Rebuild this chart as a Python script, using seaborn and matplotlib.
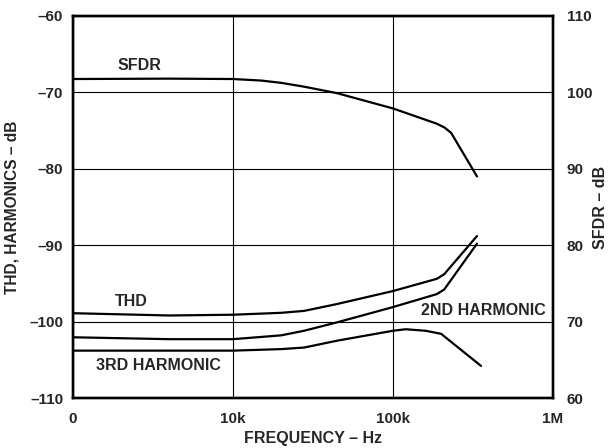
import pandas as pd
import matplotlib.pyplot as plt
import seaborn as sns
from matplotlib.ticker import FixedLocator, FixedFormatter

# frequency points (Hz) and values
freq = [1000, 4000, 10000, 15000, 20000, 27800, 44700, 100000, 188000, 210000, 231000, 335000]
sfdr = [101.75, 101.8, 101.75, 101.55, 101.25, 100.75, 99.9, 97.9, 95.9, 95.4, 94.7, 89.0]

freq_thd = [1000, 4000, 10000, 20000, 27800, 44700, 100000, 188000, 209000, 335000]
thd = [-98.9, -99.2, -99.1, -98.85, -98.6, -97.7, -96.0, -94.4, -93.8, -88.8]
second = [-102.05, -102.3, -102.3, -101.8, -101.2, -100.1, -98.1, -96.4, -95.8, -89.8]

freq_3rd = [1000, 10000, 20000, 27800, 44700, 100000, 120000, 160000, 200000, 355000]
third = [-103.8, -103.8, -103.6, -103.4, -102.5, -101.2, -101.0, -101.2, -101.6, -105.8]

xticks = [1000, 10000, 100000, 1000000]
xtick_labels = ['0', '10k', '100k', '1M']
left_ticks = [-110, -100, -90, -80, -70, -60]
right_ticks = [60, 70, 80, 90, 100, 110]

sns.set_theme(style='white')
plt.rcParams['font.family'] = ['Liberation Sans', 'DejaVu Sans']
plt.rcParams['font.weight'] = 'bold'

fig = plt.figure(figsize=(6.08, 4.48), dpi=100)
ax = fig.add_axes([0.12, 0.1116, 0.7895, 0.8527])
ax2 = ax.twinx()

harm = pd.DataFrame({'freq': freq_thd, 'THD': thd, '2ND': second})
sns.lineplot(data=harm, x='freq', y='THD', ax=ax, color='black', lw=1.6)
sns.lineplot(data=harm, x='freq', y='2ND', ax=ax, color='black', lw=1.6)
sns.lineplot(x=freq_3rd, y=third, ax=ax, color='black', lw=1.6)
sns.lineplot(x=freq, y=sfdr, ax=ax2, color='black', lw=1.6)

ax.set_xscale('log')
ax.set_xlim(1000, 1000000)
ax.set_ylim(-110, -60)
ax2.set_ylim(60, 110)

ax.xaxis.set_major_locator(FixedLocator(xticks))
ax.xaxis.set_major_formatter(FixedFormatter(xtick_labels))
ax.xaxis.set_minor_locator(FixedLocator([]))
ax.set_yticks(left_ticks)
ax.set_yticklabels([str(v).replace('-', '\u2013') for v in left_ticks])
ax2.set_yticks(right_ticks)
ax2.set_yticklabels([str(v) for v in right_ticks])

ax.grid(True, color='black', lw=0.8)
ax.tick_params(axis='y', length=0, labelsize=11, pad=7)
ax.tick_params(axis='x', length=0, labelsize=11, pad=10)
ax2.tick_params(length=0, labelsize=11, pad=10)
for a in (ax, ax2):
    for lab in a.get_xticklabels() + a.get_yticklabels():
        lab.set_fontweight('bold')
    for s in a.spines.values():
        s.set_color('black')
        s.set_linewidth(1.7)

ax.set_xlabel('FREQUENCY \u2013 Hz', fontsize=11.5, fontweight='bold', labelpad=4)
ax.set_ylabel('THD, HARMONICS \u2013 dB', fontsize=11.2, fontweight='bold', labelpad=7)
ax2.set_ylabel('SFDR \u2013 dB', fontsize=11.5, fontweight='bold')
ax2.yaxis.set_label_coords(1.084, 0.5)

ax.text(2620, -66.5, 'SFDR', fontsize=11.5, fontweight='bold', ha='center', va='center')
ax.text(2300, -97.4, 'THD', fontsize=11.5, fontweight='bold', ha='center', va='center')
ax.text(3400, -105.8, '3RD HARMONIC', fontsize=11.5, fontweight='bold', ha='center', va='center')
ax.text(365000, -98.6, '2ND HARMONIC', fontsize=11.5, fontweight='bold', ha='center', va='center')

fig.savefig('out.png', dpi=100)
